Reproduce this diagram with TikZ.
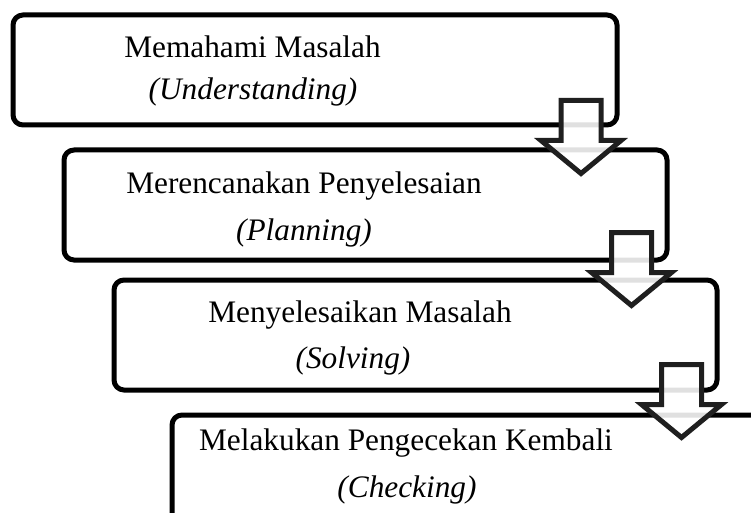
\documentclass[tikz,border=0pt]{standalone}
\usepackage{fontspec}
\setmainfont{Liberation Serif}
\definecolor{arrowline}{HTML}{1F1F1F}
\tikzset{
  stagebox/.style={draw=black, line width=5pt, rounded corners=10pt, fill=white, inner sep=0pt},
  stagetext/.style={anchor=base, inner sep=0pt, font=\fontsize{31.3}{38}\selectfont},
  stagesub/.style={anchor=base, inner sep=0pt, font=\fontsize{31.3}{38}\selectfont\itshape},
  blockarrow/.style={draw=arrowline, line width=5pt, fill=white, fill opacity=0.88, line join=miter, miter limit=10}
}
\newcommand{\downblock}[2]{%
  \draw[blockarrow] (#1-20,#2) -- (#1+20,#2) -- (#1+20,#2+40) -- (#1+40,#2+40)
    -- (#1,#2+73) -- (#1-40,#2+40) -- (#1-20,#2+40) -- cycle;}
\begin{document}
\begin{tikzpicture}[x=1pt,y=-1pt]
\useasboundingbox (0,0) rectangle (751,513);
\clip (0,0) rectangle (751,513);
% boxes
\node[stagebox, minimum width=604pt, minimum height=110pt] (b1) at (315,70) {};
\node[stagebox, minimum width=603pt, minimum height=110pt] (b2) at (365.5,205) {};
\node[stagebox, minimum width=603pt, minimum height=110pt] (b3) at (415.5,335) {};
\node[stagebox, minimum width=640pt, minimum height=150pt] (b4) at (492,490) {};
% texts
\node[stagetext] (t1) at (252.5,58) {Memahami Masalah};
\node[stagesub]  (s1) at (253,100) {(Understanding)};
\node[stagetext] (t2) at (304,193) {Merencanakan Penyelesaian};
\node[stagesub]  (s2) at (304,240) {(Planning)};
\node[stagetext] (t3) at (360,322) {Menyelesaikan Masalah};
\node[stagesub]  (s3) at (353,368) {(Solving)};
\node[stagetext] (t4) at (406,450) {Melakukan Pengecekan Kembali};
\node[stagesub]  (s4) at (407,497) {(Checking)};
% block arrows
\downblock{581}{100.5}
\downblock{631.5}{232.5}
\downblock{681.5}{364.5}
\end{tikzpicture}
\end{document}
